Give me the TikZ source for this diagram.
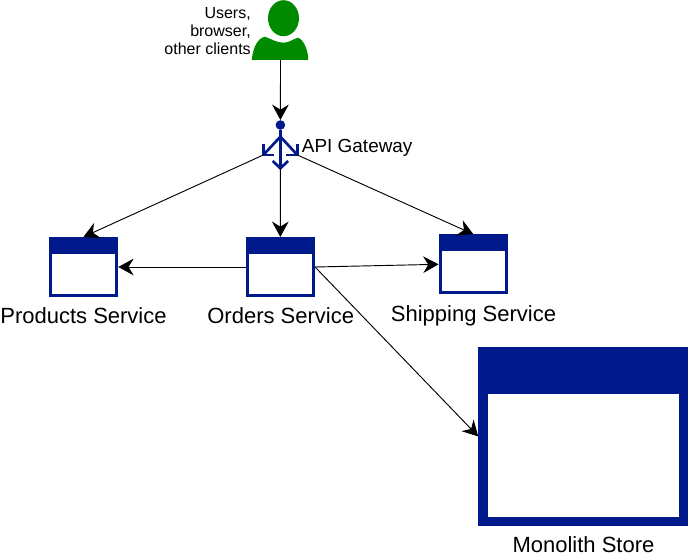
\documentclass[tikz,border=0pt]{standalone}
\usepackage{fontspec}
\setmainfont{Liberation Sans}
\usetikzlibrary{arrows.meta,shapes.geometric}
\definecolor{navy}{HTML}{001A8C}
\definecolor{usergreen}{HTML}{008A00}
\tikzset{
  servicebox/.style={draw=navy,fill=white,line width=2.25pt,inner sep=0pt,minimum width=49.9pt,minimum height=42.9pt,
    path picture={\fill[navy] (path picture bounding box.north west) rectangle ([yshift=-11.5pt]path picture bounding box.north east);}},
  link/.style={-{Stealth[length=11.5pt,width=12.5pt,inset=3.8pt]},line width=0.7pt},
  forkline/.style={draw=navy,line width=2pt},
  biglabel/.style={anchor=base,inner sep=0pt,font=\fontsize{16.5}{19}\selectfont}
}
\begin{document}
\begin{tikzpicture}[x=0.75pt,y=-0.75pt]
    \useasboundingbox (0,0) rectangle (689,560);
    \node[ellipse,fill=usergreen,inner sep=0pt,minimum width=23.25pt,minimum height=27pt] (user) at (283.5,18.2) {};
    \fill[usergreen] (251.7,60) .. controls (253,47) and (258,38) .. (265,36.7) .. controls (271,39) and (277,42.7) .. (283.5,42.7)
      .. controls (289,42.7) and (293,39) .. (298,37.7) .. controls (304,40) and (308,50) .. (308.3,60) -- cycle;
    \coordinate (userfoot) at (280.5,60);
    \node[anchor=base east,inner sep=0pt,align=right,font=\fontsize{12}{13.8}\selectfont] (clients) at (251,54.3) {Users,\\[-0.6pt]browser,\\[-0.2pt]other clients};
    \node[circle,fill=navy,inner sep=0pt,minimum size=7.2pt] (gwtop) at (280.4,125) {};
    \coordinate (gwfork) at (280.4,136.7); \coordinate (gwleft) at (263.3,155);
    \coordinate (gwright) at (297.4,155); \coordinate (gwdown) at (280.4,168.3);
    \draw[forkline] (gwtop)--(gwdown); \draw[forkline] (gwfork)--(gwleft); \draw[forkline] (gwfork)--(gwright);
    \draw[forkline] ([yshift=8.25pt]gwleft)--(gwleft)--([xshift=8.25pt]gwleft);
    \draw[forkline] ([yshift=8.25pt]gwright)--(gwright)--([xshift=-8.25pt]gwright);
    \draw[forkline] ([shift={(-5.8pt,5.5pt)}]gwdown)--(gwdown)--([shift={(5.8pt,5.5pt)}]gwdown);
    \node[anchor=base west,inner sep=0pt,font=\fontsize{14.2}{17}\selectfont] (gateway) at (301.7,152.7) {API Gateway};
    \node[servicebox] (products) at (83.5,267) {};
    \node[servicebox] (orders) at (280.3,267) {};
    \node[servicebox] (shipping) at (473.3,264.3) {};
    \node[servicebox,line width=7pt,minimum width=150.5pt,minimum height=127.5pt,
      path picture={\fill[navy] (path picture bounding box.north west) rectangle ([yshift=-32.25pt]path picture bounding box.north east);}] (monolith) at (583.2,436.4) {};
    \node[biglabel] (productslabel) at (83.5,323.8) {Products Service};
    \node[biglabel] (orderslabel) at (280.7,323.8) {Orders Service};
    \node[biglabel] (shippinglabel) at (473.5,321.5) {Shipping Service};
    \node[biglabel] (monolithlabel) at (583.5,552.2) {Monolith Store};
    \draw[link] (userfoot)--(gwtop);
    \draw[link] (gwleft)--(products.north);
    \draw[link] (gwdown)--(orders.north);
    \draw[link] (gwright)--(shipping.north);
    \draw[link] (orders.west)--(products.east);
    \draw[link] (orders.east)--(shipping.west);
    \draw[link] (orders.east)--(monolith.west);
\end{tikzpicture}
\end{document}
